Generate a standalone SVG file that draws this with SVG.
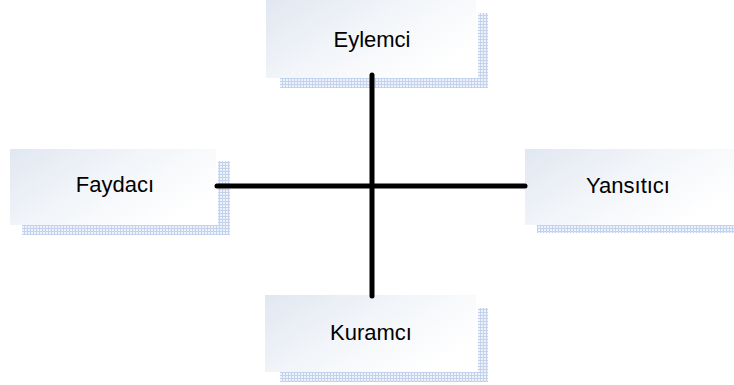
<svg xmlns="http://www.w3.org/2000/svg" width="734" height="385" viewBox="0 0 734 385">
  <defs>
    <linearGradient id="bg" x1="0" y1="0" x2="1" y2="0.6">
      <stop offset="0" stop-color="#e1e7f1"/>
      <stop offset="0.5" stop-color="#f2f5f9"/>
      <stop offset="1" stop-color="#ffffff"/>
    </linearGradient>
    <pattern id="hatch" width="3" height="3" patternUnits="userSpaceOnUse">
      <rect width="3" height="3" fill="#eef3fb"/>
      <rect width="3" height="1" fill="#c3d3ee"/>
      <rect width="1" height="3" fill="#c3d3ee"/>
    </pattern>
  </defs>
  <style>
    .box { fill: url(#bg); }
    .hatch { fill: url(#hatch); }
    .label { font-family: "Liberation Sans", Arial, sans-serif; font-size: 22px; fill: #000; text-anchor: middle; }
    .conn { stroke: #000; stroke-width: 5; stroke-linecap: round; fill: none; }
  </style>
  <rect width="734" height="385" fill="#ffffff"/>

  <g id="node-eylemci">
    <rect class="box" x="266" y="0" width="210" height="78"/>
    <rect class="hatch" x="280" y="78" width="208" height="10"/>
    <rect class="hatch" x="478" y="13" width="10" height="65"/>
    <text class="label" x="372" y="47">Eylemci</text>
  </g>

  <g id="node-faydaci">
    <rect class="box" x="10" y="149" width="206" height="76"/>
    <rect class="hatch" x="22" y="225" width="208" height="10"/>
    <rect class="hatch" x="218" y="161" width="12" height="64"/>
    <text class="label" x="115" y="192">Faydacı</text>
  </g>

  <g id="node-yansitici">
    <rect class="box" x="525" y="149" width="209" height="76"/>
    <rect class="hatch" x="537" y="225" width="197" height="8"/>
    <text class="label" x="628" y="193">Yansıtıcı</text>
  </g>

  <g id="node-kuramci">
    <rect class="box" x="265" y="295" width="211" height="77"/>
    <rect class="hatch" x="280" y="372" width="208" height="10"/>
    <rect class="hatch" x="478" y="308" width="10" height="64"/>
    <text class="label" x="371" y="340">Kuramcı</text>
  </g>

  <g id="connectors">
    <line class="conn" x1="372" y1="75" x2="372" y2="296"/>
    <line class="conn" x1="217" y1="186" x2="525" y2="186"/>
  </g>
</svg>
